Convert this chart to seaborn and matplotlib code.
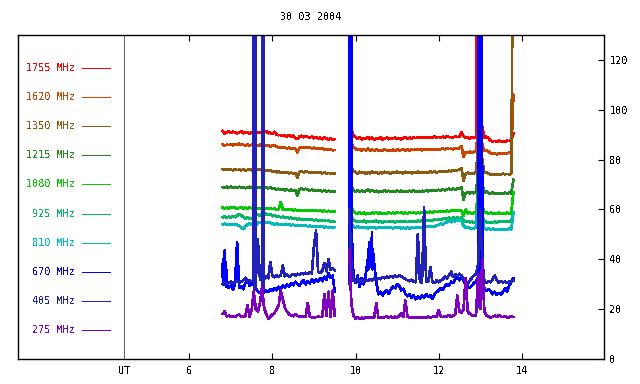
import numpy as np
import pandas as pd
import matplotlib
matplotlib.use("Agg")
import matplotlib.pyplot as plt
import seaborn as sns

sns.set_theme(style="white")
plt.rcParams["font.family"] = ["DejaVu Sans Mono"]
plt.rcParams["font.size"] = 7.3
plt.rcParams["text.antialiased"] = False

title = "30 03 2004"
freqs = ["1755 MHz", "1620 MHz", "1350 MHz", "1215 MHz", "1080 MHz",
         "925 MHz", "810 MHz", "670 MHz", "405 MHz", "275 MHz"]
colors = ["#ff0000", "#cc4400", "#8a5a10", "#228822", "#00cc00",
          "#00bb66", "#00bbbb", "#0000ff", "#2222bb", "#8000c0"]
yticks = [0, 20, 40, 60, 80, 100, 120]
xticks = [6, 8, 10, 12, 14]

# sample times: segment 1 from 6.80 UT, segment 2 from 9.85 UT, 0.05 h apart
seg1_start = 6.80
seg2_start = 9.85
step = 0.05

f1755_a = [91.6, 90.4, 90.9, 91.3, 90.7, 91.2, 91.0, 90.5, 90.9, 91.3,
           90.6, 90.8, 91.1, 90.4, 90.9, 90.7, 91.0, 90.6, 91.1, 90.8,
           90.9, 91.4, 90.6, 90.8, 90.3, 91.2, 90.1, 89.8, 89.9, 89.4,
           89.7, 89.2, 89.8, 89.3, 89.6, 88.7, 88.2, 89.2, 89.6, 89.0,
           89.4, 89.1, 88.8, 89.3, 88.6, 89.0, 88.4, 88.8, 88.2, 88.9,
           88.5, 88.0, 88.6, 87.8, 88.2]
f1755_b = [103.0, 92.0, 89.6, 89.0, 88.3, 88.9, 88.1, 88.7, 88.4, 89.1,
           88.2, 88.8, 88.0, 88.6, 88.3, 88.9, 88.1, 88.5, 88.8, 88.2,
           88.7, 88.4, 88.9, 88.3, 88.6, 88.1, 88.7, 88.9, 88.4, 88.8,
           88.5, 88.9, 88.6, 89.0, 88.7, 88.9, 88.6, 89.1, 88.8, 89.0,
           88.7, 89.2, 88.9, 89.1, 88.8, 89.2, 88.9, 89.3, 89.0, 89.1,
           88.9, 89.3, 89.0, 89.2, 91.0, 89.5, 88.6, 89.0, 88.4, 88.9,
           88.6, 89.2, 200.0, 98.0, 93.0, 88.8, 89.2, 88.6, 87.6, 87.3,
           87.5, 87.2, 87.6, 87.3, 87.5, 87.2, 87.6, 87.4, 87.8, 90.6]

f1620_a = [86.2, 85.6, 86.0, 85.8, 86.3, 85.7, 86.1, 85.9, 86.4, 85.8,
           86.0, 85.6, 86.1, 85.7, 86.0, 85.5, 85.9, 85.6, 86.0, 85.4,
           85.8, 85.5, 85.9, 85.3, 85.6, 85.8, 85.2, 84.9, 85.1, 84.6,
           84.9, 84.5, 84.8, 84.3, 84.7, 84.4, 82.9, 84.6, 85.0, 84.7,
           85.1, 84.6, 84.9, 84.5, 84.8, 84.3, 84.6, 84.2, 84.5, 84.0,
           84.3, 83.9, 84.2, 83.7, 83.9]
f1620_b = [97.0, 86.5, 85.0, 84.4, 83.8, 84.3, 83.6, 84.1, 83.7, 84.4,
           83.5, 84.0, 83.6, 84.2, 83.4, 83.9, 83.5, 84.1, 83.7, 83.9,
           83.4, 84.0, 83.6, 84.1, 83.7, 83.9, 84.2, 83.6, 84.0, 83.7,
           84.1, 83.8, 84.2, 83.9, 84.1, 83.7, 84.2, 83.9, 84.3, 84.0,
           84.2, 83.9, 84.3, 84.0, 84.2, 84.4, 84.1, 84.5, 84.2, 84.4,
           84.1, 84.6, 84.3, 84.5, 85.5, 81.0, 83.0, 82.6, 83.2, 82.8,
           83.1, 83.4, 92.0, 94.0, 86.0, 83.4, 83.8, 83.2, 82.6, 82.2,
           82.5, 82.1, 82.6, 82.3, 82.7, 82.2, 82.6, 82.8, 83.0, 106.0]

f1350_a = [76.2, 75.8, 76.3, 75.9, 76.1, 75.6, 76.2, 75.8, 76.0, 75.7,
           76.1, 75.6, 75.9, 76.2, 75.7, 76.0, 75.5, 76.1, 75.8, 76.0,
           75.6, 75.9, 75.4, 75.8, 75.2, 75.5, 74.9, 75.2, 74.7, 75.0,
           74.6, 74.9, 74.5, 74.8, 74.4, 74.7, 72.7, 75.0, 75.4, 74.9,
           75.3, 75.0, 74.8, 75.1, 74.7, 75.0, 74.6, 74.9, 74.5, 74.8,
           74.4, 74.7, 74.3, 74.6, 74.4]
f1350_b = [88.0, 77.0, 75.5, 75.0, 74.4, 75.1, 74.6, 75.0, 74.3, 74.9,
           74.5, 75.2, 74.6, 74.9, 74.3, 74.8, 74.5, 75.1, 74.6, 74.9,
           74.4, 75.0, 74.7, 75.3, 74.6, 74.9, 74.5, 75.1, 74.7, 75.0,
           74.5, 74.9, 74.6, 75.2, 74.8, 75.0, 74.6, 75.1, 74.8, 75.3,
           74.9, 75.2, 74.8, 75.1, 75.4, 75.0, 75.5, 75.1, 75.6, 75.3,
           75.8, 75.4, 75.7, 76.0, 76.5, 71.5, 74.3, 74.8, 74.2, 74.7,
           74.4, 74.9, 85.0, 90.0, 80.0, 74.8, 75.0, 74.5, 74.0, 73.8,
           74.2, 73.9, 74.3, 74.0, 74.4, 74.1, 74.3, 74.0, 74.6, 200.0]

f1215_a = [69.0, 68.6, 69.1, 68.8, 69.2, 68.7, 69.0, 68.6, 69.1, 68.8,
           69.0, 68.5, 68.9, 69.1, 68.6, 68.9, 68.5, 69.0, 68.7, 68.9,
           68.6, 69.0, 68.5, 68.8, 68.3, 68.6, 68.0, 68.3, 67.8, 68.1,
           67.7, 68.0, 67.6, 67.9, 67.5, 67.8, 65.6, 68.1, 68.4, 68.0,
           68.3, 67.9, 67.6, 68.0, 67.5, 67.8, 67.4, 67.7, 67.3, 67.6,
           67.2, 67.5, 67.1, 67.4, 67.2]
f1215_b = [75.0, 69.0, 67.8, 67.2, 67.8, 67.1, 67.6, 67.0, 67.5, 67.9,
           67.3, 67.7, 67.1, 67.5, 66.9, 67.4, 67.0, 67.6, 67.2, 67.5,
           67.0, 67.4, 67.1, 67.6, 67.2, 67.5, 67.0, 67.4, 67.1, 67.5,
           67.2, 67.6, 67.1, 67.4, 67.0, 67.5, 67.2, 67.6, 67.3, 67.7,
           67.4, 67.8, 67.5, 67.9, 67.6, 68.0, 67.7, 68.1, 68.3, 67.9,
           68.4, 68.0, 68.5, 68.2, 69.0, 64.0, 66.5, 67.0, 66.4, 66.9,
           66.5, 67.0, 75.0, 80.0, 70.0, 66.8, 67.2, 66.6, 66.2, 66.8,
           66.3, 66.7, 66.2, 66.6, 66.3, 66.8, 66.4, 66.7, 66.5, 72.0]

f1080_a = [60.8, 60.3, 60.7, 60.4, 60.9, 60.5, 60.8, 60.3, 60.6, 60.9,
           60.4, 60.7, 60.3, 60.8, 60.5, 60.7, 60.2, 60.6, 60.3, 60.7,
           60.4, 60.6, 60.2, 60.5, 60.1, 60.4, 59.9, 60.2, 62.9, 60.1,
           59.7, 60.0, 59.8, 60.1, 59.6, 59.9, 59.5, 59.8, 59.4, 59.7,
           59.3, 59.7, 59.4, 59.8, 59.5, 59.7, 59.3, 59.6, 59.2, 59.5,
           59.2, 59.5, 59.1, 59.4, 59.2]
f1080_b = [70.0, 61.0, 59.3, 58.6, 58.2, 58.8, 58.3, 58.7, 58.1, 58.6,
           58.2, 58.8, 58.4, 58.9, 58.3, 58.7, 58.2, 58.6, 58.3, 58.8,
           58.4, 58.7, 58.3, 58.9, 58.5, 58.8, 58.4, 58.7, 58.3, 58.8,
           58.5, 58.9, 58.4, 58.7, 58.5, 58.9, 58.6, 59.0, 58.7, 59.1,
           58.8, 59.2, 58.9, 59.3, 59.0, 59.4, 59.1, 59.5, 59.2, 59.6,
           59.3, 59.7, 59.4, 59.8, 59.5, 57.5, 60.0, 58.4, 58.8, 58.3,
           58.7, 58.5, 68.0, 72.0, 62.0, 58.6, 58.9, 58.3, 58.7, 58.2,
           58.6, 58.3, 58.7, 58.2, 58.6, 58.3, 58.7, 58.4, 58.6, 67.0]

f925_a = [56.8, 57.2, 56.7, 57.1, 56.8, 57.3, 56.9, 57.5, 58.2, 57.6,
          57.0, 56.4, 56.8, 56.2, 56.6, 56.3, 57.5, 58.0, 57.4, 58.3,
          57.6, 58.4, 57.8, 58.1, 57.3, 57.6, 57.0, 57.3, 56.8, 57.1,
          56.6, 56.9, 56.4, 56.7, 56.2, 56.5, 56.0, 56.3, 55.9, 56.2,
          55.8, 56.1, 55.7, 56.0, 55.6, 55.9, 55.5, 55.8, 55.4, 55.7,
          55.3, 55.5, 55.1, 55.3, 54.9]
f925_b = [64.0, 57.0, 55.8, 55.3, 54.9, 55.4, 55.0, 55.5, 54.8, 55.3,
          54.9, 55.4, 55.0, 55.5, 54.9, 55.3, 54.8, 55.2, 54.9, 55.4,
          55.0, 55.3, 54.8, 55.2, 54.9, 55.4, 55.0, 55.3, 54.9, 55.2,
          55.0, 55.4, 55.1, 55.5, 55.2, 55.6, 55.3, 55.7, 55.4, 55.8,
          55.5, 56.0, 55.7, 56.1, 55.8, 56.2, 56.5, 56.1, 56.7, 56.3,
          56.8, 56.4, 56.9, 56.5, 56.8, 55.5, 55.0, 55.3, 54.8, 55.1,
          54.7, 55.0, 62.0, 64.0, 57.0, 55.2, 55.0, 54.6, 55.0, 54.7,
          55.1, 54.8, 55.2, 54.9, 55.3, 54.9, 55.2, 55.0, 55.4, 59.0]

f810_a = [54.0, 54.3, 53.9, 54.2, 53.8, 54.1, 53.7, 54.0, 53.4, 52.6,
          52.3, 53.2, 54.0, 54.4, 54.0, 54.3, 53.5, 54.6, 55.0, 54.5,
          55.1, 54.7, 55.0, 54.6, 54.3, 54.0, 54.3, 53.9, 54.2, 53.8,
          54.1, 53.7, 54.0, 53.6, 53.9, 53.5, 53.8, 53.4, 53.7, 53.3,
          53.6, 53.2, 53.5, 53.1, 53.4, 53.0, 53.3, 52.9, 53.2, 52.8,
          53.1, 52.7, 53.0, 52.6, 52.9]
f810_b = [60.0, 54.5, 53.3, 52.8, 53.2, 52.6, 53.0, 52.5, 52.9, 52.4,
          52.8, 52.5, 52.9, 52.4, 52.8, 52.5, 52.9, 52.6, 53.0, 52.5,
          52.8, 52.4, 52.9, 52.5, 52.8, 52.4, 52.7, 52.3, 52.7, 52.4,
          52.8, 52.5, 52.9, 52.6, 53.0, 52.7, 53.2, 52.9, 53.3, 53.0,
          53.4, 53.2, 53.6, 53.9, 54.3, 54.0, 54.6, 54.9, 55.3, 54.9,
          55.5, 55.2, 55.8, 55.4, 55.6, 53.5, 52.6, 52.9, 52.4, 52.1,
          52.5, 52.8, 60.0, 63.0, 56.0, 52.4, 52.0, 52.4, 51.9, 52.3,
          51.8, 52.2, 51.7, 52.1, 51.8, 52.2, 51.9, 52.3, 52.0, 59.0]

f670_a = [38.0, 43.5, 31.0, 28.5, 29.5, 27.8, 30.2, 47.0, 28.6, 29.3,
          28.0, 30.5, 31.8, 29.4, 30.6, 29.8, 28.2, 27.0, 26.5, 27.2,
          26.8, 27.5, 26.9, 28.0, 27.3, 28.4, 27.6, 29.0, 28.2, 29.5,
          28.8, 30.0, 29.2, 30.4, 29.6, 31.0, 30.2, 29.4, 30.8, 31.5,
          29.9, 31.2, 30.4, 31.8, 30.6, 32.0, 31.0, 32.4, 31.2, 33.0,
          31.8, 34.5, 32.6, 33.5, 27.0]
f670_b = [200.0, 55.0, 33.0, 30.5, 33.5, 29.0, 32.5, 30.0, 34.5, 40.5,
          46.5, 43.0, 38.0, 31.0, 26.0, 27.0, 25.5, 26.8, 27.5, 26.2,
          28.0, 29.0, 28.4, 30.0, 29.5, 27.5, 28.2, 26.0, 25.2, 26.0,
          24.5, 25.5, 24.0, 25.0, 24.2, 25.6, 24.5, 26.0, 25.0, 25.5,
          24.2, 26.0, 26.8, 27.5, 28.5, 27.8, 29.2, 30.0, 29.4, 31.0,
          30.5, 32.0, 32.5, 31.6, 33.0, 31.5, 30.0, 29.0, 28.5, 29.5,
          30.5, 31.0, 33.0, 200.0, 36.0, 28.0, 27.5, 28.0, 27.2, 26.0,
          27.0, 25.8, 26.5, 26.0, 27.0, 28.5, 27.0, 29.5, 31.0, 32.5]

f405_a = [30.0, 30.8, 30.2, 30.5, 31.0, 30.4, 30.9, 31.2, 30.6, 31.0,
          31.5, 32.6, 31.2, 31.6, 31.0, 31.4, 31.2, 48.0, 32.0, 31.5,
          31.8, 33.0, 32.4, 39.0, 33.2, 32.8, 33.5, 32.9, 33.6, 37.5,
          33.2, 33.8, 33.0, 33.6, 34.0, 33.4, 34.2, 33.8, 34.5, 34.0,
          34.6, 34.1, 34.8, 34.3, 45.5, 51.5, 35.0, 34.6, 35.4, 38.5,
          35.2, 40.0, 35.8, 36.5, 35.5]
f405_b = [60.0, 38.0, 31.5, 31.0, 32.2, 30.8, 31.6, 31.0, 32.0, 31.4,
          32.0, 31.5, 32.2, 31.8, 32.5, 32.0, 32.8, 32.4, 33.0, 32.6,
          33.2, 32.8, 33.5, 33.0, 33.6, 33.2, 32.6, 32.0, 31.6, 31.2,
          31.8, 31.0, 30.8, 50.0, 31.0, 30.6, 61.0, 30.8, 31.2, 37.0,
          31.0, 30.5, 31.5, 30.8, 31.6, 32.0, 33.0, 32.4, 33.5, 35.0,
          33.0, 34.0, 33.2, 34.2, 33.5, 32.0, 31.0, 30.0, 31.5, 32.5,
          33.5, 34.0, 38.0, 60.0, 40.0, 31.0, 30.5, 31.2, 30.8, 32.0,
          33.5, 31.5, 30.6, 31.2, 30.8, 31.0, 30.5, 31.2, 30.8, 31.5]

f275_a = [18.0, 19.2, 17.0, 17.4, 16.8, 17.2, 16.9, 17.5, 17.8, 17.0,
          16.8, 17.2, 21.5, 17.0, 19.5, 27.0, 20.0, 19.0, 22.5, 29.0,
          20.5, 18.0, 16.2, 17.0, 17.8, 18.5, 20.0, 21.5, 27.5, 24.0,
          20.5, 19.0, 18.0, 17.6, 17.2, 18.0, 17.4, 17.0, 17.2, 16.8,
          17.0, 22.5, 17.0, 16.8, 16.6, 16.8, 17.0, 16.8, 17.0, 26.0,
          17.2, 27.0, 17.0, 27.5, 17.2]
f275_b = [44.0, 22.0, 17.5, 16.2, 16.8, 16.0, 16.6, 16.2, 16.8, 16.4,
          16.9, 16.5, 16.8, 22.5, 16.6, 16.9, 16.4, 16.8, 17.2, 16.6,
          17.0, 16.5, 17.0, 16.6, 17.2, 18.5, 16.8, 23.5, 17.0, 16.6,
          16.8, 16.5, 16.8, 16.6, 16.9, 16.5, 16.8, 16.6, 17.0, 16.6,
          16.9, 17.2, 16.8, 19.5, 17.0, 16.8, 17.2, 17.0, 17.6, 16.8,
          17.4, 18.0, 25.5, 19.0, 18.5, 20.0, 32.5, 19.0, 18.2, 17.6,
          17.2, 17.5, 34.0, 20.0, 39.5, 19.0, 17.5, 17.0, 16.6, 17.0,
          17.4, 16.8, 17.6, 17.0, 16.8, 17.2, 16.6, 16.8, 17.2, 16.8]

# extra (denser) samples inside bursts
burst405_t = [7.552, 7.559, 7.566, 7.573, 7.580, 7.587, 7.594,
              7.752, 7.759, 7.766, 7.773, 7.780, 7.787, 7.794]
burst405_v = [200, 28, 200, 28, 200, 28, 200,
              200, 28, 200, 28, 200, 28, 200]
burst670_t = [6.81, 6.82, 6.83, 6.84, 6.86, 6.87, 6.88, 6.89,
              9.857, 9.864, 9.871, 9.878, 9.885, 9.892,
              10.305, 10.315, 10.325, 10.335, 10.345, 10.355,
              10.365, 10.375, 10.385, 10.395, 10.405, 10.415,
              12.962, 12.969, 12.976, 12.983, 12.990, 12.997,
              13.007, 13.014, 13.021, 13.028, 13.035, 13.042]
burst670_v = [30, 40, 31, 42, 30, 39, 29, 36,
              30, 200, 32, 200, 38, 200,
              36, 44, 38, 47, 40, 45, 37, 48, 41, 51, 36, 44,
              200, 22, 200, 21, 200, 22,
              24, 200, 25, 200, 28, 200]
burst1755_t = [12.915, 12.925, 12.935, 12.945, 12.96]
burst1755_v = [200, 86, 200, 90, 100]

series = [
    ("1755 MHz", f1755_a, f1755_b), ("1620 MHz", f1620_a, f1620_b),
    ("1350 MHz", f1350_a, f1350_b), ("1215 MHz", f1215_a, f1215_b),
    ("1080 MHz", f1080_a, f1080_b), ("925 MHz", f925_a, f925_b),
    ("810 MHz", f810_a, f810_b), ("670 MHz", f670_a, f670_b),
    ("405 MHz", f405_a, f405_b), ("275 MHz", f275_a, f275_b),
]
bursts = [("405 MHz", burst405_t, burst405_v),
          ("670 MHz", burst670_t, burst670_v),
          ("1755 MHz", burst1755_t, burst1755_v)]

frames = []
for name, a, b in series:
    t1 = seg1_start + step * np.arange(len(a))
    t2 = seg2_start + step * np.arange(len(b))
    frames.append(pd.DataFrame({"t": t1, "v": a, "freq": name, "seg": 1}))
    frames.append(pd.DataFrame({"t": t2, "v": b, "freq": name, "seg": 2}))
for name, bt, bv in bursts:
    bt = np.array(bt)
    frames.append(pd.DataFrame({"t": bt, "v": bv, "freq": name,
                                "seg": np.where(bt < 9.7, 1, 2)}))
df = pd.concat(frames, ignore_index=True)

fig = plt.figure(figsize=(6.4, 3.84), dpi=100)
ax = fig.add_axes([18 / 640, 25 / 384, 586 / 640, 324 / 384])
palette = dict(zip(freqs, colors))
sns.lineplot(data=df, x="t", y="v", hue="freq", units="seg", estimator=None,
             hue_order=freqs, palette=palette, legend=False, sort=True,
             linewidth=1.2, antialiased=False, ax=ax)

ax.set_xlim(1.877, 15.98)
ax.set_ylim(0, 130)
ax.set_xticks(xticks)
ax.set_xticklabels([str(x) for x in xticks])
ax.yaxis.tick_right()
ax.set_yticks(yticks)
ax.set_yticklabels([str(y) for y in yticks])
ax.tick_params(axis="x", direction="in", length=4, width=0.8, top=True,
               bottom=True, pad=5, labelsize=7.3, colors="black")
ax.tick_params(axis="y", direction="in", length=4, width=0.8, right=True,
               left=False, pad=4, labelsize=7.3, colors="black")
ax.set_xlabel("")
ax.set_ylabel("")
for s in ax.spines.values():
    s.set_color("black")
    s.set_linewidth(1.0)
    s.set_visible(True)

# separator and "UT" label
ax.plot([0.1814, 0.1814], [0, 1], transform=ax.transAxes, color="#606060",
        lw=0.72, antialiased=False)
ax.text(0.1814, -0.037, "UT", transform=ax.transAxes, ha="center",
        va="center", fontsize=7.3, color="black")

# frequency key
for k, (f, c) in enumerate(zip(freqs, colors)):
    y = 0.898 - k * 0.0898
    ax.text(0.0973, y, f, transform=ax.transAxes, ha="right", va="center",
            color=c, fontsize=7.3)
    ax.plot([0.109, 0.157], [y, y], transform=ax.transAxes, color=c,
            lw=0.72, antialiased=False)

fig.text(311 / 640, 1 - 17 / 384, title, ha="center", va="center",
         fontsize=7.3, color="black")

fig.savefig("out.png", dpi=100)
